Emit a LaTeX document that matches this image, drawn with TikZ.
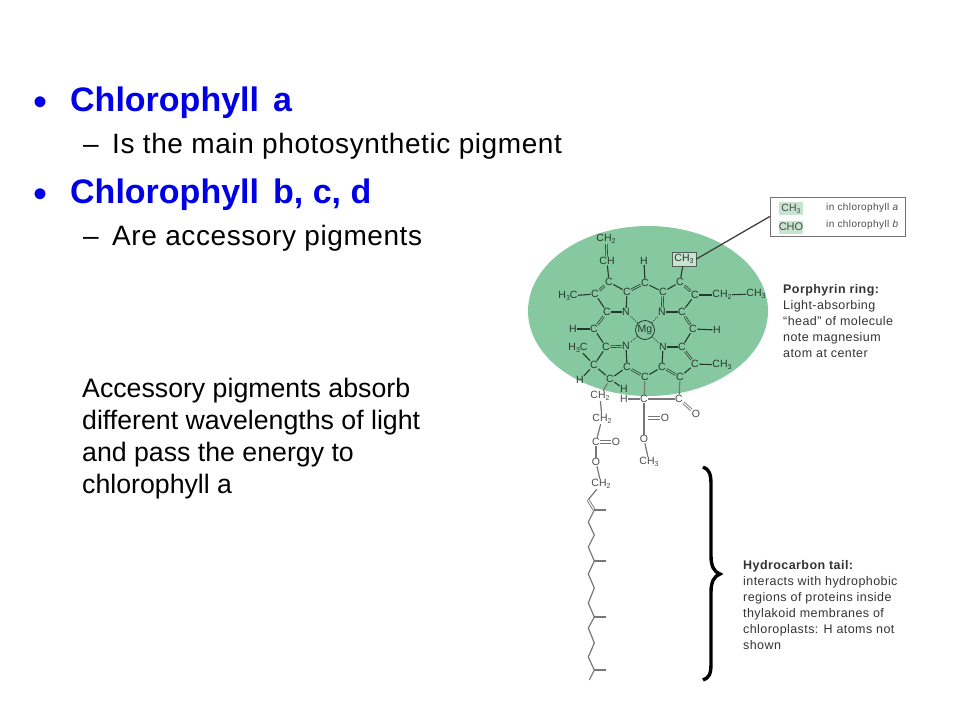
\documentclass[tikz,border=0pt]{standalone}
\usepackage{fontspec}
\setmainfont{Liberation Sans}
\newcommand{\fsz}[1]{\fontsize{#1}{#1}\selectfont}
\newcommand{\subn}[1]{\raisebox{-1.8pt}{\fontsize{7}{7}\selectfont #1}}
\definecolor{leaf}{HTML}{86C9A0}
\definecolor{leaflight}{HTML}{C6E4D0}
\definecolor{slideblue}{HTML}{0000E6}
\definecolor{inkdark}{HTML}{26382D}
\definecolor{inkgrey}{HTML}{4A4A4A}
\definecolor{bondgrey}{HTML}{777777}
\tikzset{
  headline/.style={anchor=base west,inner sep=0,font=\fsz{34}\bfseries,text=slideblue},
  subline/.style={anchor=base west,inner sep=0,font=\fsz{28}\addfontfeature{LetterSpace=2.1},text=black},
  bodyline/.style={anchor=base west,inner sep=0,font=\fsz{26.7},text=black},
  bulletmark/.style={anchor=base west,inner sep=0,font=\fsz{40},text=slideblue},
  atom/.style={inner sep=0.4pt,font=\fsz{10.5},text=inkdark},
  atomout/.style={inner sep=0.4pt,font=\fsz{10.5},text=inkgrey},
  bond/.style={draw=inkdark,line width=1.1pt},
  dbond/.style={draw=inkdark,line width=0.7pt,double=leaf,double distance=1.1pt},
  bondout/.style={draw=bondgrey,line width=1.2pt},
  dbondout/.style={draw=bondgrey,line width=0.9pt,double=white,double distance=1.1pt},
  twinup/.style={draw=bondgrey,line width=1pt,transform canvas={yshift=1.3pt}},
  twindown/.style={draw=bondgrey,line width=1pt,transform canvas={yshift=-1.3pt}},
  tailbond/.style={draw=bondgrey,line width=1.2pt},
  caption/.style={anchor=base west,inner sep=0,font=\fsz{12.5}\addfontfeature{LetterSpace=3.4},text=black!80},
  legendtext/.style={anchor=base west,inner sep=0,font=\fsz{10}\addfontfeature{LetterSpace=4},text=black!70},
}
\begin{document}
\begin{tikzpicture}[x=1pt,y=-1pt]
\useasboundingbox (0,0) rectangle (960,720);
% slide text
\node[bulletmark] (b1) at (33.5,115) {•};
\node[headline] (t1) at (70,111) {Chlorophyll\hspace{14pt}a};
\node[subline] (d1) at (83,153) {–};
\node[subline] (s1) at (112,153) {Is the main photosynthetic pigment};
\node[bulletmark] (b2) at (33.5,207) {•};
\node[headline] (t2) at (70,203) {Chlorophyll\hspace{14pt}b, c, d};
\node[subline] (d2) at (83,245) {–};
\node[subline] (s2) at (112,245) {Are accessory pigments};
\node[bodyline] (p1) at (82,397) {Accessory pigments absorb};
\node[bodyline] (p2) at (82,429) {different wavelengths of light};
\node[bodyline] (p3) at (82,461) {and pass the energy to};
\node[bodyline] (p4) at (82,493) {chlorophyll a};
% head
\fill[leaf] (648,311) ellipse [x radius=120,y radius=85];
% atoms in the ring
\node[atom] (ch2t) at (606,239) {CH\subn{2}};
\node[atom] (cht) at (607,261) {CH};
\node[atom] (hm) at (644,261) {H};
\node[atom,draw=inkdark!80,fill=leaflight,line width=0.9pt,minimum width=24pt,minimum height=14pt] (ch3b) at (684,259) {CH\subn{3}};
\node[atom] (ca) at (609,282) {C};
\node[atom] (cb) at (595,294) {C};
\node[atom] (cc) at (627,292) {C};
\node[atom] (cm) at (645,283) {C};
\node[atom] (cd) at (663,292) {C};
\node[atom] (ce) at (680,282) {C};
\node[atom] (cf) at (695,295) {C};
\node[atom] (cg) at (607,312) {C};
\node[atom] (n1) at (626,312) {N};
\node[atom] (n2) at (662,312) {N};
\node[atom] (ch) at (682,312) {C};
\node[atom,draw=inkdark,circle,minimum size=19pt,inner sep=0pt,line width=0.8pt] (mg) at (645,330) {Mg};
\node[atom] (ci) at (594,329) {C};
\node[atom] (cj) at (693,329) {C};
\node[atom] (h1) at (573,329) {H};
\node[atom] (h2) at (717,330) {H};
\node[atom] (h3a) at (568,296) {H\subn{3}C};
\node[atom] (ch2r) at (722,295) {CH\subn{2}};
\node[atom] (ch3r) at (756,294) {CH\subn{3}};
\node[atom] (h3b) at (578,348) {H\subn{3}C};
\node[atom] (ck) at (606,347) {C};
\node[atom] (n3) at (626,346) {N};
\node[atom] (n4) at (663,347) {N};
\node[atom] (cl) at (682,347) {C};
\node[atom] (cq2) at (594,365) {C};
\node[atom] (cn) at (627,367) {C};
\node[atom] (co) at (662,367) {C};
\node[atom] (cp) at (695,364) {C};
\node[atom] (ch3s) at (722,365) {CH\subn{3}};
\node[atom] (h4) at (580,380) {H};
\node[atom] (cq) at (610,379) {C};
\node[atom] (cr) at (645,377) {C};
\node[atom] (cs) at (680,377) {C};
\node[atom] (h5) at (624,389) {H};
% atoms below the head
\node[atomout] (h6) at (624,399) {H};
\node[atomout] (ct) at (644,399) {C};
\node[atomout] (cu) at (679,399) {C};
\node[atomout] (o1) at (696,414) {O};
\node[atomout] (o2) at (665,418) {O};
\node[atomout] (o5) at (644,439) {O};
\node[atomout] (ch3t) at (649,462) {CH\subn{3}};
\node[atomout] (ch2a) at (600,396) {CH\subn{2}};
\node[atomout] (ch2b) at (602,419) {CH\subn{2}};
\node[atomout] (cv) at (596,442) {C};
\node[atomout] (o3) at (616,442) {O};
\node[atomout] (o4) at (596,462) {O};
\node[atomout] (ch2c) at (601,484) {CH\subn{2}};
\coordinate (jn) at (648,418);
% bonds
\foreach \a/\b in {cht/ca,ca/cc,cm/cd,cd/ce,cc/n1,n1/cg,cg/cb,ci/h1,cf/ch,cj/h2,n2/ch,cf/ch2r,ch2r/ch3r,cb/h3a,ce/ch3b,hm/cm,ci/ck,n3/cn,cr/co,co/n4,n4/cl,cp/cs,cp/ch3s,cl/cj,ck/cq2,h3b/cq2,cq2/h4,cq2/cq,cq/cn,cq/h5}
  \draw[bond] (\a) -- (\b);
\foreach \a/\b in {ch2t/cht,ca/cb,cc/cm,ce/cf,cd/n2,cg/ci,ch/cj,ck/n3,cn/cr,cl/cp,co/cs}
  \draw[dbond] (\a) -- (\b);
\foreach \a in {n1,n2,n3,n4}
  \draw[draw=inkdark,line width=0.7pt,dash pattern=on 1.2pt off 1.2pt] (mg) -- (\a);
\foreach \a/\b in {cr/ct,cs/cu,ct/cu,h6/ct,ct/o5,o5/ch3t,cq/ch2a,ch2a/ch2b,ch2b/cv,cv/o4,o4/ch2c}
  \draw[bondout] (\a) -- (\b);
\draw[dbondout] (cu) -- (o1);
\foreach \a/\b in {jn/o2,cv/o3}{
  \draw[twinup] (\a) -- (\b);
  \draw[twindown] (\a) -- (\b);
}
% tail
\coordinate (t0) at (594.3,510);
\coordinate (t0a) at (588,500);
\coordinate (t1p) at (588.3,522);
\coordinate (t2p) at (594.3,535);
\coordinate (t3p) at (588.3,547);
\coordinate (t4p) at (594.3,561);
\coordinate (t5p) at (588.3,574);
\coordinate (t6p) at (594.3,588);
\coordinate (t7p) at (588.3,603);
\coordinate (t8p) at (594.3,617);
\coordinate (t9p) at (588.3,628);
\coordinate (t10p) at (594.3,643);
\coordinate (t11p) at (588.3,657);
\coordinate (t12p) at (594.3,670);
\coordinate (t13p) at (589.3,680);
\coordinate (br0) at (606,510);
\coordinate (br4) at (606,561);
\coordinate (br8) at (606,617);
\coordinate (br12) at (606,670);
\draw[tailbond] (ch2c) -- (t0a);
\draw[dbondout] (t0a) -- (t0);
\draw[tailbond] (t0) -- (t1p) -- (t2p) -- (t3p) -- (t4p) -- (t5p) -- (t6p) -- (t7p) -- (t8p) -- (t9p) -- (t10p) -- (t11p) -- (t12p) -- (t13p);
\draw[tailbond] (t0) -- (br0);
\draw[tailbond] (t4p) -- (br4);
\draw[tailbond] (t8p) -- (br8);
\draw[tailbond] (t12p) -- (br12);
% brace
\coordinate (brtop) at (703,467);
\coordinate (brtip) at (720,574);
\coordinate (brbot) at (703,680);
\draw[line width=3.4pt,black] (brtop) .. controls (709,469) and (711,474) .. (711,484) -- (711,556) .. controls (711,566) and (714,572) .. (brtip) .. controls (714,576) and (711,582) .. (711,592) -- (711,664) .. controls (711,674) and (709,678) .. (brbot);
% legend
\node[draw=black!55,fill=white,line width=1pt,minimum width=135.5pt,minimum height=39pt,inner sep=0] (legend) at (838,216.5) {};
\node[atom,fill=leaflight,text=inkgrey,minimum width=24pt,minimum height=13pt,inner sep=0] (lg1) at (791,208.5) {CH\subn{3}};
\node[atom,fill=leaflight,text=inkgrey,minimum width=24pt,minimum height=13pt,inner sep=0,font=\fsz{11}] (lg2) at (791,227) {CHO};
\node[legendtext] (lt1) at (826,210) {in chlorophyll \textit{a}};
\node[legendtext] (lt2) at (826,227) {in chlorophyll \textit{b}};
\draw[draw=black!75,line width=1.3pt] (legend.west) -- (ch3b.east);
% captions
\node[caption] (c1) at (783,293) {\bfseries Porphyrin ring:};
\node[caption] (c2) at (783,309) {Light-absorbing};
\node[caption] (c3) at (783,325) {“head” of molecule};
\node[caption] (c4) at (783,341) {note magnesium};
\node[caption] (c5) at (783,357) {atom at center};
\node[caption] (e1) at (743,569) {\bfseries Hydrocarbon tail:};
\node[caption] (e2) at (743,585) {interacts with hydrophobic};
\node[caption] (e3) at (743,601) {regions of proteins inside};
\node[caption] (e4) at (743,617) {thylakoid membranes of};
\node[caption] (e5) at (743,633) {chloroplasts: H atoms not};
\node[caption] (e6) at (743,649) {shown};
\end{tikzpicture}
\end{document}
